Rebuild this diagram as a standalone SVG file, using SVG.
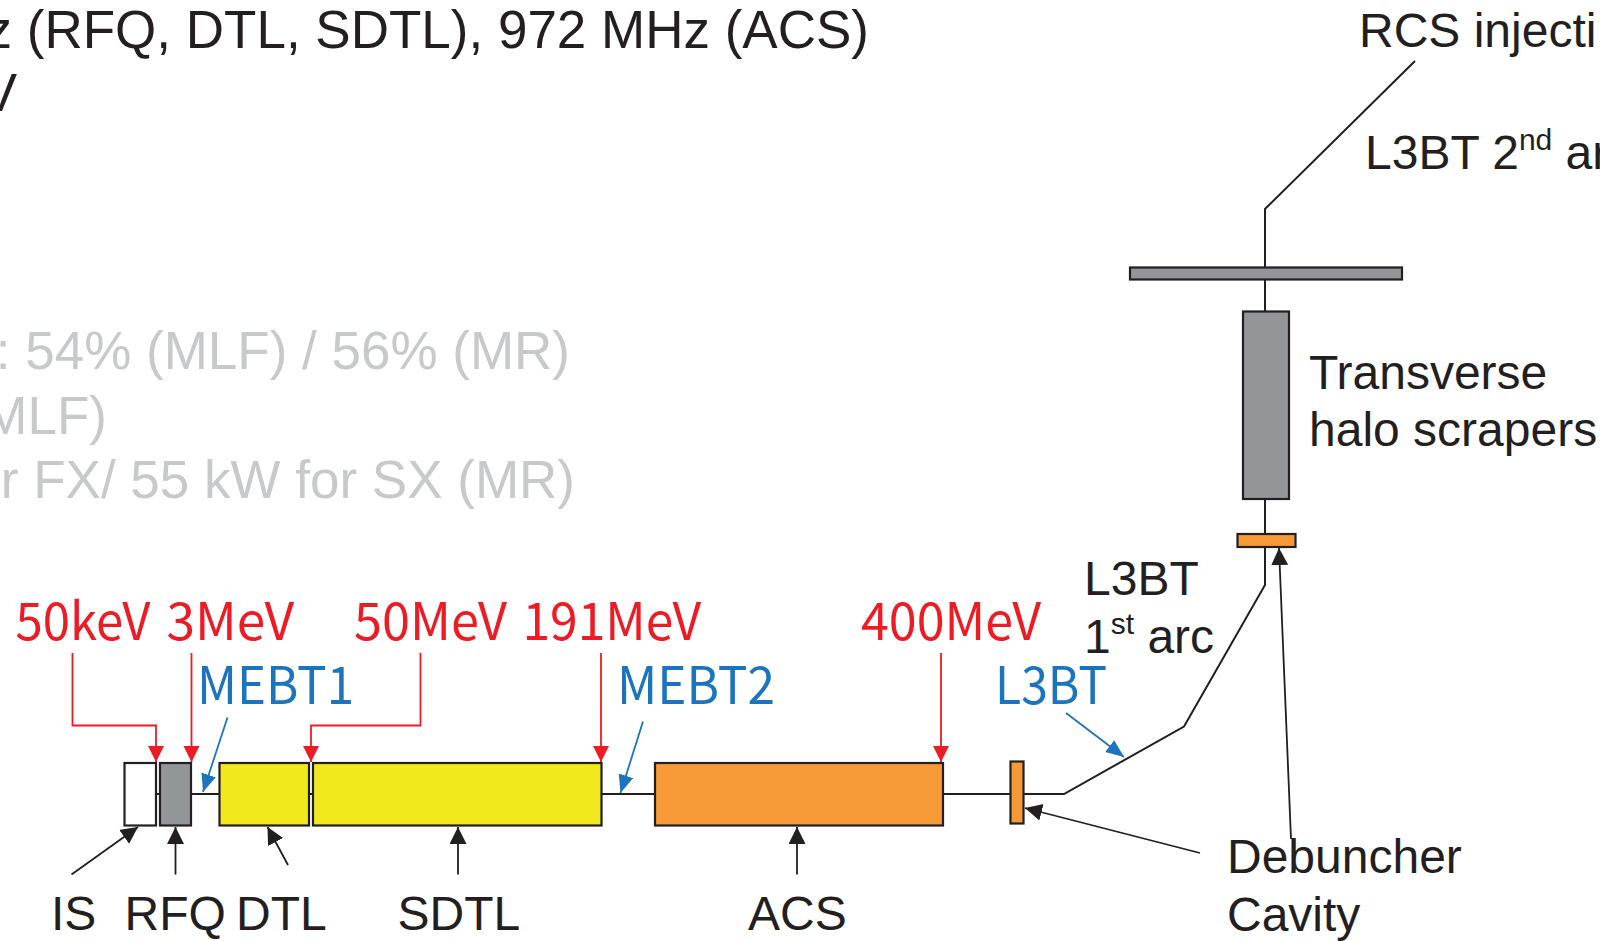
<svg xmlns="http://www.w3.org/2000/svg" width="1600" height="941" viewBox="0 0 1600 941">
  <defs>
    <style>
      .lbl { font-family: "Liberation Sans", Arial, sans-serif; fill: #231f20; }
      .big { font-size: 53px; }
      .mid { font-size: 48px; }
      .gray { fill: #c8c9cb; }
      .red { font-family: "Noto Sans CJK JP", "Liberation Sans", sans-serif; font-size: 52px; fill: #ed1c24; }
      .blue { font-family: "Noto Sans CJK JP", "Liberation Sans", sans-serif; font-size: 52px; fill: #1c75bc; }
      .box { stroke: #231f20; stroke-width: 2.2; }
      .beam { fill: none; stroke: #231f20; stroke-width: 2; }
      .ar-k { fill: none; stroke: #231f20; stroke-width: 1.8; marker-end: url(#mk); }
      .ar-r { fill: none; stroke: #ed1c24; stroke-width: 1.8; marker-end: url(#mr); }
      .ar-b { fill: none; stroke: #1c75bc; stroke-width: 1.8; marker-end: url(#mb); }
      .sup { font-size: 30px; }
    </style>
    <marker id="mk" markerUnits="userSpaceOnUse" markerWidth="18" markerHeight="18" refX="17" refY="8.5" orient="auto">
      <path d="M0,0 L17,8.5 L0,17 z" fill="#231f20"/>
    </marker>
    <marker id="mr" markerUnits="userSpaceOnUse" markerWidth="18" markerHeight="17" refX="16" refY="8" orient="auto">
      <path d="M0,0 L16,8 L0,16 z" fill="#ed1c24"/>
    </marker>
    <marker id="mb" markerUnits="userSpaceOnUse" markerWidth="19" markerHeight="16" refX="18" refY="7.5" orient="auto">
      <path d="M0,0 L18,7.5 L0,15 z" fill="#1c75bc"/>
    </marker>
  </defs>

  <rect x="0" y="0" width="1600" height="941" fill="#ffffff"/>

  <!-- header texts (cut by the frame) -->
  <g id="header">
    <text class="lbl big" x="869" y="48" text-anchor="end">z (RFQ, DTL, SDTL), 972 MHz (ACS)</text>
    <text class="lbl big" x="17" y="111" text-anchor="end">V</text>
    <text class="lbl big gray" x="570" y="369" text-anchor="end">: 54% (MLF) / 56% (MR)</text>
    <text class="lbl big gray" x="107" y="434" text-anchor="end">MLF)</text>
    <text class="lbl big gray" x="575" y="498" text-anchor="end">r FX/ 55 kW for SX (MR)</text>
  </g>

  <!-- connectors -->
  <g id="connectors">
    <path class="beam" d="M128,794 H1064 L1184,726.5 L1265,585 V209 L1415,61"/>
    <!-- red energy arrows -->
    <path class="ar-r" d="M72.5,653 V725.5 H156 V762"/>
    <path class="ar-r" d="M191.5,653 V762"/>
    <path class="ar-r" d="M420.5,653 V725.5 H311 V762"/>
    <path class="ar-r" d="M601,653 V762"/>
    <path class="ar-r" d="M941,653 V762"/>
    <!-- blue section arrows -->
    <path class="ar-b" d="M227.5,717.5 L203,792"/>
    <path class="ar-b" d="M643,721.5 L620.5,793"/>
    <path class="ar-b" d="M1066,713 L1124,757"/>
    <!-- black label arrows -->
    <path class="ar-k" d="M71.5,874.5 L138,827"/>
    <path class="ar-k" d="M175.5,874.5 V827"/>
    <path class="ar-k" d="M288,865 L267.5,827"/>
    <path class="ar-k" d="M458,874.5 V827"/>
    <path class="ar-k" d="M797,874.5 V827"/>
    <path class="ar-k" d="M1200,853 L1025,808"/>
    <path class="ar-k" d="M1291,839 L1279,548"/>
  </g>

  <!-- linac components -->
  <g id="IS">
    <rect class="box" x="124.5" y="763" width="31.5" height="62.5" fill="#ffffff"/>
    <text class="lbl mid" x="51" y="930">IS</text>
  </g>
  <g id="RFQ">
    <rect class="box" x="160" y="763" width="31" height="62.5" fill="#939598"/>
    <text class="lbl mid" x="124.5" y="930">RFQ</text>
  </g>
  <g id="DTL">
    <rect class="box" x="219.5" y="763" width="89.5" height="62.5" fill="#f1e91b"/>
    <text class="lbl mid" x="236" y="930">DTL</text>
  </g>
  <g id="SDTL">
    <rect class="box" x="313" y="763" width="288.5" height="62.5" fill="#f1e91b"/>
    <text class="lbl mid" x="397.5" y="930">SDTL</text>
  </g>
  <g id="ACS">
    <rect class="box" x="655" y="763" width="288" height="62.5" fill="#f69a38"/>
    <text class="lbl mid" x="748" y="930">ACS</text>
  </g>
  <g id="debuncher">
    <rect class="box" x="1010.5" y="761.5" width="13" height="62" fill="#f69a38"/>
    <rect class="box" x="1237.5" y="534" width="58" height="13" fill="#f69a38"/>
    <text class="lbl mid" x="1227" y="872.5">Debuncher</text>
    <text class="lbl mid" x="1227" y="930.5">Cavity</text>
  </g>
  <g id="scrapers">
    <rect class="box" x="1243" y="311.5" width="46" height="187.5" fill="#939598"/>
    <text class="lbl mid" x="1309" y="389">Transverse</text>
    <text class="lbl mid" x="1309" y="446">halo scrapers</text>
  </g>
  <g id="L3BT-2nd-arc">
    <rect class="box" x="1130" y="267.5" width="272" height="12" fill="#939598"/>
    <text class="lbl mid" x="1365" y="168.5">L3BT 2<tspan class="sup" dy="-19">nd</tspan><tspan dy="19"> ar</tspan></text>
  </g>
  <g id="RCS-injection">
    <text class="lbl mid" x="1359" y="47">RCS injecti</text>
  </g>
  <g id="L3BT-1st-arc">
    <text class="lbl mid" x="1084" y="595">L3BT</text>
    <text class="lbl mid" x="1084" y="653">1<tspan class="sup" dy="-19">st</tspan><tspan dy="19"> arc</tspan></text>
  </g>

  <!-- energy and section labels -->
  <g id="energies">
    <text class="red" x="15.5" y="640" textLength="135" lengthAdjust="spacingAndGlyphs">50keV</text>
    <text class="red" x="166.5" y="640" textLength="127.5" lengthAdjust="spacingAndGlyphs">3MeV</text>
    <text class="red" x="354" y="640" textLength="153" lengthAdjust="spacingAndGlyphs">50MeV</text>
    <text class="red" x="522.5" y="640" textLength="178.5" lengthAdjust="spacingAndGlyphs">191MeV</text>
    <text class="red" x="861" y="640" textLength="180" lengthAdjust="spacingAndGlyphs">400MeV</text>
  </g>
  <g id="sections">
    <text class="blue" x="197" y="704" textLength="157" lengthAdjust="spacingAndGlyphs">MEBT1</text>
    <text class="blue" x="617" y="704" textLength="158" lengthAdjust="spacingAndGlyphs">MEBT2</text>
    <text class="blue" x="995" y="704" textLength="112" lengthAdjust="spacingAndGlyphs">L3BT</text>
  </g>
</svg>
